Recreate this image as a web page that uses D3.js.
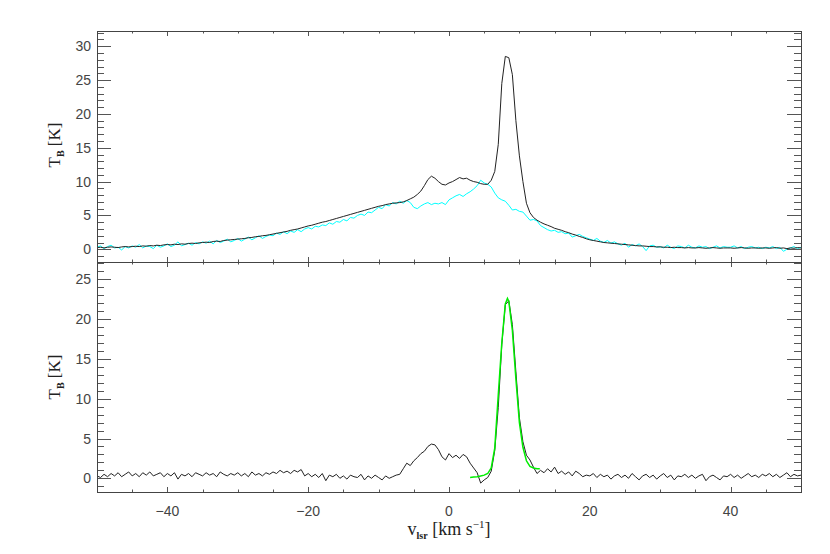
<!DOCTYPE html>
<html>
<head>
<meta charset="utf-8">
<script src="https://cdn.jsdelivr.net/npm/d3@7"></script>
<style>
  body { margin: 0; background: #fff; }
  .tick-label { font-family: "Liberation Sans", Arial, sans-serif; font-size: 14px; fill: #444; }
  .axis-title { font-family: "Liberation Serif", "DejaVu Serif", serif; fill: #222; }
</style>
</head>
<body>
<div id="graph"></div>
<script>
// channel grid: -50 .. 50 km/s, 0.5 km/s per channel (201 channels)
const velocity = d3.range(0, 201).map(i => -50 + i * 0.5);

// top panel, black spectrum
const topBlack = [
  0.25,0.3,0.2,0.3,0.35,0.3,0.25,0.35,0.4,0.35,
  0.4,0.45,0.4,0.5,0.45,0.55,0.5,0.6,0.55,0.65,
  0.7,0.65,0.75,0.7,0.8,0.75,0.85,0.9,0.85,0.95,
  1.0,1.05,1.0,1.15,1.2,1.15,1.3,1.35,1.4,1.45,
  1.5,1.55,1.6,1.7,1.75,1.85,1.9,2.0,2.05,2.15,
  2.25,2.35,2.45,2.55,2.65,2.8,2.9,3.0,3.15,3.3,
  3.45,3.55,3.7,3.85,4.0,4.1,4.25,4.4,4.55,4.7,
  4.85,5.0,5.15,5.3,5.45,5.6,5.75,5.9,6.05,6.2,
  6.35,6.45,6.6,6.7,6.8,6.85,6.9,7.0,7.2,7.45,
  7.7,8.1,8.6,9.4,10.3,10.8,10.5,10.0,9.6,9.5,
  9.8,10.0,10.3,10.6,10.4,10.5,10.2,10.0,9.9,9.7,
  9.6,9.6,10.2,11.5,15.5,24.5,28.5,28.3,25.8,19.0,
  13.8,10.0,6.8,5.4,4.7,4.3,4.0,3.75,3.55,3.35,
  3.1,2.95,2.8,2.6,2.45,2.25,2.1,1.9,1.75,1.55,
  1.4,1.3,1.2,1.1,1.0,0.95,0.9,0.85,0.8,0.75,
  0.7,0.65,0.6,0.55,0.5,0.5,0.45,0.4,0.4,0.35,
  0.35,0.3,0.3,0.25,0.3,0.25,0.25,0.2,0.25,0.2,
  0.2,0.25,0.2,0.15,0.2,0.25,0.2,0.15,0.2,0.2,
  0.2,0.15,0.2,0.25,0.2,0.15,0.2,0.2,0.15,0.2,
  0.2,0.15,0.2,0.25,0.15,0.2,0.1,0.2,0.15,0.25,0.2
];

// top panel, cyan spectrum
const topCyan = [
  0.3,0.5,0.1,0.4,0.6,0.2,0.3,-0.1,0.4,0.2,
  0.5,0.3,0.7,0.2,0.5,0.4,0.1,0.6,0.3,0.5,
  0.8,0.4,0.6,1.1,0.5,0.7,0.9,0.6,1.0,0.8,
  1.1,0.9,1.2,0.8,1.3,1.0,1.2,1.5,1.1,1.3,
  1.6,1.2,1.5,1.8,1.4,1.7,2.0,1.6,1.9,2.1,
  2.0,2.4,2.2,2.6,2.3,2.7,2.5,2.9,2.6,3.0,
  3.2,3.0,3.4,3.3,3.6,3.5,3.9,3.7,4.1,4.0,
  4.4,4.2,4.7,4.6,5.0,5.2,5.0,5.5,5.4,5.8,
  6.2,6.0,6.6,6.4,6.9,6.7,7.1,6.8,7.2,6.9,
  6.2,6.0,6.4,6.7,6.9,6.6,6.8,6.7,6.9,6.6,
  7.3,7.6,7.9,8.1,7.8,8.2,8.5,8.9,9.4,10.2,
  9.8,9.6,9.2,8.3,7.6,7.3,7.1,6.5,5.8,5.9,
  5.6,5.5,4.9,4.3,4.4,4.2,3.5,3.2,2.9,2.7,
  2.8,2.5,2.6,2.3,2.4,1.8,2.0,2.2,1.9,1.7,
  1.5,1.3,1.6,1.2,1.0,1.3,0.9,1.1,0.8,0.6,
  0.9,0.3,0.7,0.5,0.8,0.4,-0.2,0.5,0.6,0.3,
  0.4,0.2,0.6,0.3,0.1,0.5,0.4,0.2,0.6,0.3,
  0.2,0.5,0.3,0.4,0.1,0.3,0.5,0.2,0.4,0.3,
  0.3,0.5,0.2,0.4,0.1,0.3,0.4,0.2,0.3,0.1,
  0.3,0.2,0.4,0.1,0.3,-0.3,0.0,0.2,0.4,0.1,0.3
];

// bottom panel, black spectrum
const bottomBlack = [
  0.3,0.1,0.5,0.2,0.6,0.3,0.7,0.2,0.5,0.8,
  0.3,0.6,0.2,0.7,0.4,0.8,0.3,0.5,0.7,0.2,
  0.6,0.3,0.7,-0.1,0.5,0.3,0.6,0.2,0.7,0.5,
  0.3,0.7,0.4,0.6,0.2,0.8,0.5,0.3,0.6,0.4,
  0.7,0.3,0.6,0.2,0.8,0.4,0.6,0.3,0.7,0.5,
  0.8,0.6,1.0,0.7,0.9,0.6,1.0,0.8,1.1,0.3,
  0.6,0.2,0.5,0.1,0.6,-0.3,0.4,0.2,0.5,0.0,
  0.3,-0.1,0.4,0.2,0.1,0.5,-0.2,0.3,0.0,0.4,
  0.1,-0.2,0.3,0.0,0.2,0.4,0.5,1.2,1.9,1.6,
  2.2,2.6,3.1,3.4,4.0,4.3,4.2,3.6,2.7,2.3,
  3.1,2.6,2.9,2.5,3.0,2.7,1.9,1.3,0.7,-0.6,
  -0.2,0.1,0.9,3.5,8.9,16.8,21.8,22.3,19.3,13.4,
  7.6,4.6,2.9,2.3,1.4,0.6,1.0,0.7,1.2,0.8,
  1.4,0.6,0.9,0.5,0.8,0.3,0.9,0.6,0.2,0.4,
  0.3,0.6,0.1,0.5,0.2,0.4,-0.1,0.3,0.5,0.1,
  0.4,0.0,0.6,0.2,-0.2,0.3,0.5,0.1,0.4,-0.1,
  0.3,0.6,0.1,0.4,-0.2,0.3,0.2,0.5,0.1,0.4,
  0.0,0.3,0.5,-0.3,0.2,0.4,0.1,-0.2,0.3,0.2,
  0.5,0.1,0.4,0.0,0.3,0.6,0.2,0.4,0.1,0.5,
  0.3,0.6,0.2,0.5,0.1,0.4,0.7,0.2,0.5,0.3,0.4
];

// bottom panel, green fit
const fitVelocity = [3.0,3.5,4.0,4.5,5.0,5.5,6.0,6.5,7.0,7.5,8.0,8.3,8.5,9.0,9.5,10.0,10.5,11.0,11.5,12.0,12.5,12.9];
const fitValues   = [0.1,0.15,0.2,0.3,0.4,0.6,1.3,3.8,10.5,17.0,21.9,22.6,22.2,18.6,12.5,7.0,3.9,2.2,1.5,1.3,1.2,1.2];

const xTicks = [-40, -20, 0, 20, 40];
const topYTicks = [0, 5, 10, 15, 20, 25, 30];
const bottomYTicks = [0, 5, 10, 15, 20, 25];

const width = 830;
const height = 554;
const left = 97, right = 801;

const svg = d3.select("#graph")
              .append("svg")
              .attr("width", width)
              .attr("height", height);

const xScale = d3.scaleLinear().domain([-50, 50]).range([left, right]);

const panels = [
  { top: 31, bottom: 262, domain: [-1.88, 32.25], ticks: topYTicks, labelsX: false, titleY: 145,
    series: [ { v: velocity, t: topCyan, color: "#00ffff", w: 1 }, { v: velocity, t: topBlack, color: "#222", w: 1 } ] },
  { top: 262, bottom: 492, domain: [-1.72, 27.17], ticks: bottomYTicks, labelsX: true, titleY: 377,
    series: [ { v: velocity, t: bottomBlack, color: "#222", w: 1 }, { v: fitVelocity, t: fitValues, color: "#00ee00", w: 1.5 } ] }
];

panels.forEach(p => {
  const yScale = d3.scaleLinear().domain(p.domain).range([p.bottom, p.top]);
  const g = svg.append("g");

  const clipId = "clip" + p.top;
  svg.append("clipPath").attr("id", clipId)
     .append("rect").attr("x", left).attr("y", p.top).attr("width", right - left).attr("height", p.bottom - p.top);

  const line = d3.line().x(d => xScale(d[0])).y(d => yScale(d[1]));
  p.series.forEach(s => {
    g.append("path")
     .datum(s.v.map((v, i) => [v, s.t[i]]))
     .attr("clip-path", `url(#${clipId})`)
     .attr("d", line)
     .attr("fill", "none")
     .attr("stroke", s.color)
     .attr("stroke-width", s.w);
  });

  // y axes: left and right, major every 5, minor every 1
  const yMinor = d3.range(Math.ceil(p.domain[0]), Math.floor(p.domain[1]) + 1);
  yMinor.forEach(t => {
    const major = t % 5 === 0;
    const len = major ? 14 : 7;
    const y = Math.round(yScale(t)) + 0.5;
    g.append("line").attr("x1", left).attr("x2", left + len).attr("y1", y).attr("y2", y).attr("stroke", "#555");
    g.append("line").attr("x1", right - len).attr("x2", right).attr("y1", y).attr("y2", y).attr("stroke", "#555");
  });
  p.ticks.forEach(t => {
    g.append("text").attr("class", "tick-label")
     .attr("x", left - 6).attr("y", yScale(t) + 5)
     .attr("text-anchor", "end")
     .text(t);
  });

  // x axes: top and bottom, major every 20, minor every 5
  d3.range(-45, 50, 5).forEach(v => {
    const major = v % 20 === 0;
    const len = major ? 5 : 2.5;
    const x = Math.round(xScale(v)) + 0.5;
    g.append("line").attr("x1", x).attr("x2", x).attr("y1", p.bottom).attr("y2", p.bottom - len).attr("stroke", "#555");
    g.append("line").attr("x1", x).attr("x2", x).attr("y1", p.top).attr("y2", p.top + len).attr("stroke", "#555");
  });
  if (p.labelsX) {
    xTicks.forEach(v => {
      g.append("text").attr("class", "tick-label")
       .attr("x", xScale(v)).attr("y", p.bottom + 24)
       .attr("text-anchor", "middle")
       .text(v < 0 ? "\u2212" + Math.abs(v) : v);
    });
  }

  g.append("rect")
   .attr("x", left + 0.5).attr("y", p.top + 0.5)
   .attr("width", right - left).attr("height", p.bottom - p.top)
   .attr("fill", "none").attr("stroke", "#444");

  // y title
  const yt = svg.append("text").attr("class", "axis-title")
     .attr("transform", `translate(60, ${p.titleY}) rotate(-90)`)
     .attr("text-anchor", "middle")
     .style("font-size", "17px");
  yt.append("tspan").text("T");
  yt.append("tspan").attr("dy", 4).style("font-size", "10px").style("font-weight", "bold").text("B");
  yt.append("tspan").attr("dy", -4).text(" [K]");
});

const xt = svg.append("text").attr("class", "axis-title")
   .attr("x", 449).attr("y", 535)
   .attr("text-anchor", "middle")
   .style("font-size", "18px");
xt.append("tspan").text("v");
xt.append("tspan").attr("dy", 4).style("font-size", "10px").style("font-weight", "bold").text("lsr");
xt.append("tspan").attr("dy", -4).text(" [km  s");
xt.append("tspan").attr("dy", -7).style("font-size", "11px").text("\u22121");
xt.append("tspan").attr("dy", 7).text("]");
</script>
</body>
</html>
